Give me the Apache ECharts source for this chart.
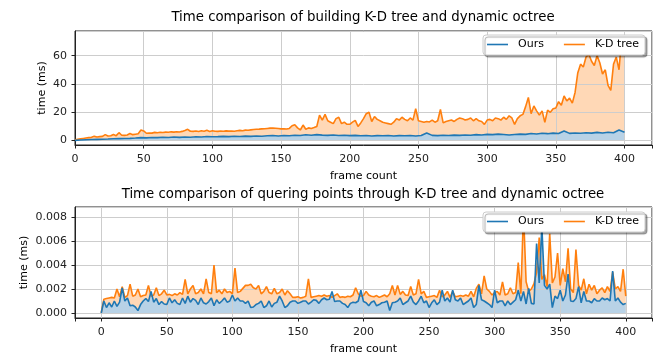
<!DOCTYPE html>
<html lang="en">
<head>
<meta charset="UTF-8">
<title>K-D tree vs dynamic octree</title>
<style>
  html, body { margin: 0; padding: 0; background: #fff; }
  #chart { width: 665px; height: 356px; }
</style>
<script src="https://cdn.jsdelivr.net/npm/echarts@6/dist/echarts.min.js"></script>
</head>
<body>
<div id="chart"></div>
<script>
// build time (ms), K-D tree sampled every 2 frames, ours every 4 frames
var buildKdStep = 2;
var buildKd = [
  0.5, 0.9, 1.2, 1.5, 1.8, 2.1, 2.3, 3.0, 2.6, 2.8,
  3.0, 4.2, 3.2, 3.4, 4.3, 3.5, 5.6, 3.8, 3.7, 4.0,
  5.0, 4.2, 4.5, 4.8, 7.5, 6.8, 5.2, 5.4, 5.3, 5.8,
  5.6, 5.9, 5.7, 6.0, 5.9, 6.2, 6.0, 6.3, 6.1, 6.5,
  7.2, 8.0, 6.6, 6.5, 6.8, 6.4, 7.0, 6.6, 7.3, 6.5,
  7.0, 6.6, 6.5, 6.8, 6.6, 6.9, 6.7, 6.8, 6.6, 7.0,
  7.2, 7.0, 7.4, 7.3, 7.6, 7.8, 8.0, 8.1, 8.3, 8.4,
  8.6, 8.8, 8.9, 8.7, 8.5, 8.3, 8.4, 8.2, 8.6, 10.5,
  11.2, 9.0, 7.5, 11.0, 8.0, 9.0, 8.5, 9.2, 10.0, 18.0,
  14.5, 18.5, 14.0, 13.0, 12.0, 15.5, 16.5, 12.0, 13.0, 11.5,
  11.5, 13.0, 14.3, 10.0, 12.5, 15.5, 19.0, 20.0, 13.5, 17.0,
  15.0, 14.0, 13.0, 12.5, 12.0, 11.5, 13.0, 15.5, 14.5, 16.5,
  15.0, 14.0, 16.0, 14.5, 22.5, 14.0, 13.5, 13.0, 13.5, 13.2,
  14.5, 13.0, 14.0, 22.0, 12.5, 13.5, 14.0, 14.5, 13.5, 15.0,
  16.0, 15.5, 14.5, 15.0, 16.0, 14.0, 15.5, 14.0, 13.5, 11.5,
  14.5, 15.0, 14.0, 16.0, 15.5, 14.5, 16.5, 15.0, 17.5, 16.0,
  11.5, 15.5, 17.5, 18.5, 24.0, 30.5, 19.0, 24.5, 21.0, 18.0,
  21.0, 13.0, 21.5, 20.0, 22.5, 23.0, 27.5, 25.0, 31.5, 28.0,
  30.0, 26.5, 34.0, 48.0, 54.0, 52.0, 59.0, 61.0, 56.0, 53.0,
  60.0, 55.0, 47.0, 50.0, 39.0, 35.5, 54.0, 59.0, 50.0, 73.7,
  61.0
];
var buildOursStep = 4;
var buildOurs = [
  0.2, 0.4, 0.6, 0.8, 0.9, 1.0, 1.1, 1.3, 1.4, 1.5,
  1.6, 1.8, 2.1, 1.9, 2.2, 2.1, 2.4, 2.2, 2.5, 2.3,
  2.6, 2.4, 2.7, 2.5, 2.9, 2.7, 2.8, 3.0, 2.8, 3.1,
  2.9, 3.2, 3.0, 3.3, 3.1, 3.4, 3.6, 3.3, 3.6, 3.4,
  3.8, 3.6, 4.1, 3.8, 4.2, 3.9, 3.7, 4.0, 3.6, 3.8,
  3.5, 3.7, 3.4, 3.6, 3.3, 3.5, 3.4, 3.6, 3.3, 3.5,
  3.4, 3.6, 3.3, 3.6, 5.4, 3.7, 3.5, 3.8, 3.6, 3.9,
  3.7, 4.0, 3.8, 4.2, 4.0, 4.4, 4.2, 4.6, 4.3, 4.0,
  4.3, 4.6, 4.4, 5.0, 4.7, 5.2, 4.9, 5.3, 5.0, 6.8,
  5.1, 5.4, 5.2, 5.6, 5.3, 5.8, 5.4, 5.9, 5.6, 7.5,
  5.9
];

// query time (ms), both sampled every 2 frames
var queryStep = 2;
var queryKd = [
  0, 0.00115, 0.0012, 0.00125, 0.0013, 0.00125, 0.002, 0.00135, 0.0022, 0.0013,
  0.00145, 0.0024, 0.0014, 0.0015, 0.002, 0.00135, 0.00145, 0.0015, 0.0023, 0.0014,
  0.0015, 0.0021, 0.00145, 0.0016, 0.0019, 0.0015, 0.00155, 0.00145, 0.0016, 0.0015,
  0.0017, 0.00155, 0.0028, 0.0016, 0.002, 0.0023, 0.0016, 0.0017, 0.002, 0.0016,
  0.00285, 0.0017, 0.0016, 0.004, 0.0017, 0.0019, 0.0016, 0.002, 0.0017, 0.0018,
  0.0016, 0.00375, 0.0017, 0.0018, 0.00205, 0.0023, 0.0023, 0.0024, 0.0021, 0.002,
  0.0023, 0.0016, 0.0018, 0.0022, 0.0017, 0.0016, 0.00205, 0.0016, 0.0017, 0.002,
  0.0015, 0.00185, 0.0016, 0.0013, 0.0013, 0.00135, 0.00125, 0.0013, 0.0014, 0.00285,
  0.0013, 0.00135, 0.0014, 0.00145, 0.0014, 0.0015, 0.0014, 0.00145, 0.0013, 0.00145,
  0.0016, 0.0013, 0.00135, 0.0013, 0.0014, 0.00135, 0.0015, 0.0021, 0.0016, 0.0014,
  0.00145, 0.0018, 0.0015, 0.0014, 0.00135, 0.00145, 0.0013, 0.0014, 0.0015, 0.00135,
  0.0016, 0.0023, 0.0015, 0.0023, 0.00155, 0.0018, 0.0015, 0.00145, 0.0022, 0.0015,
  0.0016, 0.0028, 0.0016, 0.0018, 0.0013, 0.00135, 0.0014, 0.00145, 0.0013, 0.0019,
  0.00135, 0.0015, 0.0018, 0.0013, 0.0018, 0.00135, 0.0014, 0.00145, 0.0014, 0.0015,
  0.0014, 0.0018, 0.00135, 0.00205, 0.0024, 0.0016, 0.0031, 0.002, 0.0018, 0.0015,
  0.0017, 0.0018, 0.0015, 0.0026, 0.0015, 0.0016, 0.0021, 0.0016, 0.0017, 0.0042,
  0.0016, 0.0084, 0.0026, 0.0018, 0.002, 0.00245, 0.0034, 0.0063, 0.0028, 0.0032,
  0.0022, 0.0066, 0.0025, 0.003, 0.005, 0.0023, 0.0037, 0.0026, 0.0054, 0.002,
  0.0017, 0.0053, 0.0023, 0.0019, 0.00285, 0.0016, 0.0024, 0.0019, 0.0023, 0.0016,
  0.0019, 0.0021, 0.0017, 0.0022, 0.0018, 0.0034, 0.002, 0.0022, 0.0018, 0.00365,
  0.0014
];
var queryOurs = [
  0, 0.001, 0.00045, 0.00085, 0.0005, 0.001, 0.00055, 0.0009, 0.0021, 0.001,
  0.00125, 0.0006, 0.00065, 0.0005, 0.0002, 0.0007, 0.001, 0.0012, 0.00095, 0.0018,
  0.0009, 0.0012, 0.0007, 0.00095, 0.00075, 0.0007, 0.00125, 0.00085, 0.0011, 0.0008,
  0.0007, 0.00125, 0.0008, 0.0014, 0.0009, 0.0012, 0.00105, 0.0007, 0.00125, 0.00085,
  0.00075, 0.00095, 0.00125, 0.0006, 0.0011, 0.0008, 0.001, 0.00125, 0.0009, 0.001,
  0.0015, 0.001, 0.00125, 0.001, 0.001, 0.0008, 0.001, 0.00045, 0.0005, 0.0007,
  0.0008, 0.001, 0.00045, 0.0006, 0.001, 0.0005, 0.0008, 0.0009, 0.0014, 0.001,
  0.00045, 0.0006, 0.0009, 0.001, 0.001, 0.0008, 0.0009, 0.001, 0.001, 0.00075,
  0.0009, 0.0011, 0.00105, 0.0008, 0.0011, 0.00125, 0.0011, 0.00115, 0.0018, 0.00095,
  0.001, 0.001, 0.0008, 0.0007, 0.00045, 0.0008, 0.0009, 0.00085, 0.001, 0.0019,
  0.00095, 0.00085, 0.0006, 0.0009, 0.001, 0.0006, 0.0007, 0.00085, 0.0009, 0.001,
  0.0002, 0.00085, 0.0009, 0.001, 0.00125, 0.0007, 0.00085, 0.001, 0.0014, 0.0009,
  0.0007, 0.001, 0.0014, 0.00085, 0.001, 0.00045, 0.00085, 0.0011, 0.0007, 0.0009,
  0.0019, 0.001, 0.00125, 0.0009, 0.0019, 0.0011, 0.001, 0.00125, 0.0007, 0.00085,
  0.001, 0.00125, 0.00045, 0.0007, 0.0023, 0.0011, 0.001, 0.00085, 0.0007, 0.00045,
  0.0019, 0.00085, 0.001, 0.001, 0.0006, 0.001, 0.0007, 0.0009, 0.0011, 0.0019,
  0.001, 0.0018, 0.00075, 0.00205, 0.0008, 0.00075, 0.0058, 0.0025, 0.0072, 0.0023,
  0.002, 0.0024, 0.00045, 0.0014, 0.0012, 0.0019, 0.001, 0.0015, 0.00325, 0.001,
  0.00095, 0.0012, 0.0022, 0.00085, 0.0018, 0.001, 0.001, 0.00085, 0.0012, 0.001,
  0.001, 0.00125, 0.0011, 0.0012, 0.001, 0.0035, 0.001, 0.00125, 0.0009, 0.0007,
  0.0008
];

var titles = [
  'Time comparison of building K-D tree and dynamic octree',
  'Time comparison of quering points through K-D tree and dynamic octree'
];

var font = 'DejaVu Sans';
var blue = '#1f77b4';
var orange = '#ff7f0e';
var blueFill = '#b8d2e6';
var orangeFill = 'rgba(255,127,14,0.3)';
var ink = '#222';

function toPairs(values, step) {
  return values.map(function (v, i) { return [i * step, v]; });
}

function makeXAxis(gi, min) {
  return {
    type: 'value', gridIndex: gi, min: min, max: 420, splitNumber: 9, z: 2,
    name: 'frame count', nameLocation: 'middle', nameGap: 26, nameMoveOverlap: false,
    nameTextStyle: { fontFamily: font, fontSize: 11, color: '#000' },
    axisLine: { onZero: false, lineStyle: { color: ink, width: 1 } },
    axisTick: { length: 3.5, lineStyle: { color: ink } },
    axisLabel: {
      fontFamily: font, fontSize: 11, color: ink, margin: 9,
      formatter: function (v) { return v % 50 === 0 ? String(v) : ''; }
    },
    splitLine: { lineStyle: { color: '#cdcdcd', width: 1 } }
  };
}

function makeYAxis(gi, min, max, split, fmt, gap) {
  return {
    type: 'value', gridIndex: gi, min: min, max: max, splitNumber: split, z: 2,
    name: 'time (ms)', nameLocation: 'middle', nameGap: gap, nameMoveOverlap: false,
    nameTextStyle: { fontFamily: font, fontSize: 11, color: '#000' },
    axisLine: { onZero: false, lineStyle: { color: ink, width: 1 } },
    axisTick: { length: 3.5, lineStyle: { color: ink } },
    axisLabel: {
      fontFamily: font, fontSize: 11, color: ink, margin: 8,
      showMinLabel: false, showMaxLabel: false, formatter: fmt
    },
    splitLine: { lineStyle: { color: '#cdcdcd', width: 1 } }
  };
}

function fillSeries(name, gi, data, color) {
  return {
    name: name, type: 'line', xAxisIndex: gi, yAxisIndex: gi, data: data,
    symbol: 'none', silent: true, z: 1,
    lineStyle: { width: 0, opacity: 0 },
    areaStyle: { color: color, opacity: 1 }
  };
}

function lineSeries(name, gi, data, color) {
  return {
    name: name, type: 'line', xAxisIndex: gi, yAxisIndex: gi, data: data,
    symbol: 'none', z: 3, color: color,
    lineStyle: { color: color, width: 1.6 }
  };
}

function makeLegend(top) {
  return {
    data: ['Ours', 'K-D tree'], left: 483, top: top, orient: 'horizontal',
    icon: 'rect', itemWidth: 21, itemHeight: 1.6, itemGap: 20,
    padding: [4, 6, 5, 4],
    backgroundColor: '#fff', borderColor: '#cccccc', borderWidth: 1, borderRadius: 3,
    shadowColor: 'rgba(0,0,0,0.35)', shadowBlur: 1, shadowOffsetX: 2, shadowOffsetY: 2,
    textStyle: { fontFamily: font, fontSize: 11, color: '#000', padding: [0, 0, 0, 5] }
  };
}

var chart = echarts.init(document.getElementById('chart'), null, { renderer: 'canvas' });

var kdBuild = toPairs(buildKd, buildKdStep);
var oursBuild = toPairs(buildOurs, buildOursStep);
var kdQuery = toPairs(queryKd, queryStep);
var oursQuery = toPairs(queryOurs, queryStep);

var option = {
  animation: false,
  backgroundColor: '#fff',
  title: [
    { text: titles[0], left: 363, top: 11, textAlign: 'center', padding: 0,
      textStyle: { fontFamily: font, fontSize: 13.3, fontWeight: 'normal', color: '#000' } },
    { text: titles[1], left: 363, top: 188, textAlign: 'center', padding: 0,
      textStyle: { fontFamily: font, fontSize: 13.3, fontWeight: 'normal', color: '#000' } }
  ],
  legend: [makeLegend(35), makeLegend(212)],
  grid: [
    { left: 75, right: 13, top: 31, height: 114, show: true, borderColor: ink, borderWidth: 1 },
    { left: 75, right: 13, top: 207, height: 115, show: true, borderColor: ink, borderWidth: 1 }
  ],
  xAxis: [makeXAxis(0, 0), makeXAxis(1, -20)],
  yAxis: [
    makeYAxis(0, -3.1, 77.4, 4, function (v) { return String(Math.round(v)); }, 27),
    makeYAxis(1, -0.00042, 0.00884, 5, function (v) { return v.toFixed(3); }, 45)
  ],
  series: [
    fillSeries('kd fill top', 0, kdBuild, orangeFill),
    fillSeries('ours fill top', 0, oursBuild, blueFill),
    lineSeries('K-D tree', 0, kdBuild, orange),
    lineSeries('Ours', 0, oursBuild, blue),
    fillSeries('kd fill bottom', 1, kdQuery, orangeFill),
    fillSeries('ours fill bottom', 1, oursQuery, blueFill),
    lineSeries('K-D tree', 1, kdQuery, orange),
    lineSeries('Ours', 1, oursQuery, blue)
  ]
};

chart.setOption(option);
</script>
</body>
</html>
